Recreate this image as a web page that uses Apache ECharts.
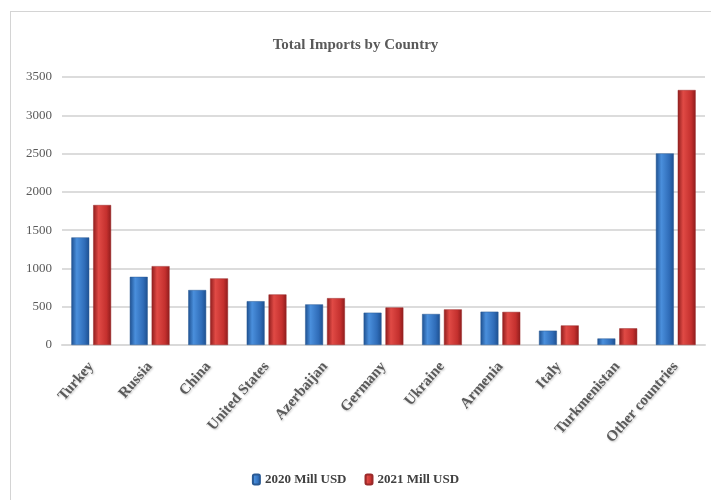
<!DOCTYPE html>
<html lang="en">
<head>
    <meta charset="UTF-8">
    <title>Total Imports by Country</title>
    <script src="https://cdn.jsdelivr.net/npm/echarts@6.0.0/dist/echarts.min.js"></script>
    <style>
        html, body { margin: 0; padding: 0; background: #fff; }
        #frame {
            position: absolute; left: 10px; top: 11px; width: 720px; height: 500px;
            border-left: 1px solid #d4d4d4; border-top: 1px solid #d4d4d4;
        }
        #main { position: absolute; left: 0; top: 0; width: 711px; height: 500px; }
    </style>
</head>
<body>
    <div id="frame"></div>
    <div id="main"></div>

    <script>
        // data (Mill USD)
        var countries = ['Turkey', 'Russia', 'China', 'United States', 'Azerbaijan', 'Germany',
            'Ukraine', 'Armenia', 'Italy', 'Turkmenistan', 'Other countries'];
        var imports2020 = [1405, 890, 718, 572, 530, 422, 405, 435, 187, 85, 2502];
        var imports2021 = [1828, 1030, 870, 660, 612, 490, 465, 432, 255, 218, 3330];
        var seriesNames = ['2020 Mill USD', '2021 Mill USD'];

        var serif = '"Liberation Serif", "DejaVu Serif", serif';

        function barColor(dark, mid, light) {
            return new echarts.graphic.LinearGradient(0, 0, 1, 0, [
                { offset: 0, color: dark },
                { offset: 0.3, color: light },
                { offset: 0.75, color: mid },
                { offset: 1, color: dark }
            ]);
        }

        var myChart = echarts.init(document.getElementById('main'));

        myChart.setOption({
            animation: false,
            title: {
                text: 'Total Imports by Country',
                left: 'center',
                top: 33,
                textStyle: { fontFamily: serif, fontSize: 15, fontWeight: 'bold', color: '#595959' }
            },
            legend: {
                bottom: 9,
                left: 'center',
                itemWidth: 7,
                itemHeight: 10,
                itemGap: 18,
                textStyle: { fontFamily: serif, fontSize: 13, fontWeight: 'bold', color: '#404040' },
                data: seriesNames
            },
            grid: { left: 62, right: 6, top: 77, bottom: 155 },
            xAxis: {
                type: 'category',
                data: countries,
                axisTick: { show: false },
                axisLine: { lineStyle: { color: '#d9d9d9', width: 2 } },
                axisLabel: {
                    rotate: 49,
                    interval: 0,
                    margin: 19,
                    fontFamily: serif,
                    fontWeight: 'bold',
                    fontSize: 15,
                    color: '#5a5a5a',
                    textShadowColor: 'rgba(0,0,0,0.25)',
                    textShadowBlur: 2,
                    textShadowOffsetX: 1,
                    textShadowOffsetY: 1
                }
            },
            yAxis: {
                type: 'value',
                min: 0,
                max: 3500,
                interval: 500,
                axisLine: { show: false },
                axisTick: { show: false },
                splitLine: { lineStyle: { color: '#dcdcdc', width: 2 } },
                axisLabel: {
                    fontFamily: serif,
                    fontSize: 13,
                    color: '#595959',
                    margin: 10,
                    formatter: function (v) { return String(v); }
                }
            },
            series: [
                {
                    name: seriesNames[0],
                    type: 'bar',
                    data: imports2020,
                    barGap: '22%',
                    barCategoryGap: '32%',
                    itemStyle: {
                        color: barColor('#1d4f8f', '#2f6cb8', '#4a8fdc'),
                        borderColor: '#2a5a94',
                        borderWidth: 0.5
                    }
                },
                {
                    name: seriesNames[1],
                    type: 'bar',
                    data: imports2021,
                    itemStyle: {
                        color: barColor('#8e1c1c', '#c4302e', '#e04a45'),
                        borderColor: '#9a2a2a',
                        borderWidth: 0.5
                    }
                }
            ]
        });
    </script>
</body>
</html>
